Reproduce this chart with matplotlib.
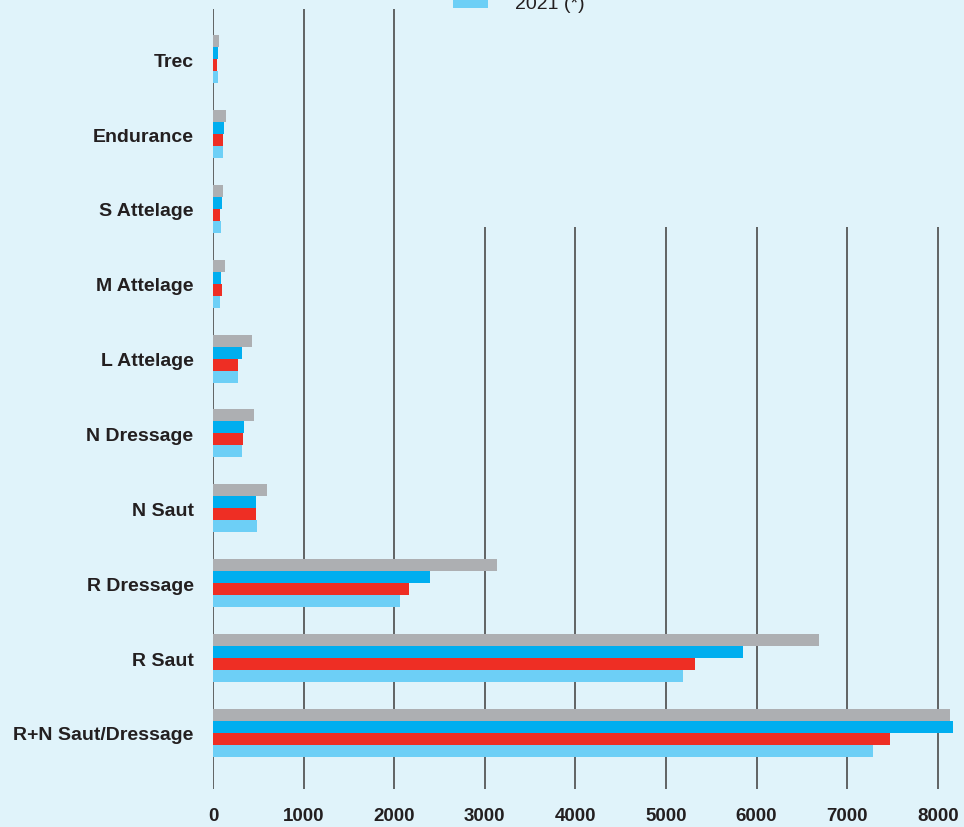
import numpy as np
import matplotlib.pyplot as plt
from matplotlib.patches import Rectangle

categories = ['Trec', 'Endurance', 'S Attelage', 'M Attelage', 'L Attelage',
              'N Dressage', 'N Saut', 'R Dressage', 'R Saut', 'R+N Saut/Dressage']
years = ['2018', '2019', '2020', '2021 (*)']
v2018 = [71, 147, 115, 137, 432, 454, 596, 3140, 6687, 8132]
v2019 = [60, 126, 104, 93, 322, 344, 475, 2399, 5848, 8165]
v2020 = [49, 115, 82, 104, 279, 333, 475, 2169, 5325, 7469]
v2021 = [50, 115, 93, 82, 279, 322, 486, 2066, 5185, 7284]
xticks = [0, 1000, 2000, 3000, 4000, 5000, 6000, 7000, 8000]

bg = '#e0f3fa'
colors = ['#adafb2', '#00aeef', '#ee2e24', '#6dcff6']
text_col = '#231f20'

fig = plt.figure(figsize=(9.64, 8.28), dpi=100, facecolor=bg)
ax = fig.add_axes([213 / 964, 38 / 828, 751 / 964, 780 / 828])
ax.set_facecolor(bg)

y = np.arange(len(categories))
h = 0.16
series = [v2018, v2019, v2020, v2021]
for i, (vals, c, lab) in enumerate(zip(series, colors, years)):
    ax.barh(y + (i - 1.5) * h, vals, height=h, color=c, label=lab, zorder=2)

ax.set_xlim(0, 8290)
ax.set_ylim(9.75, -0.67)
ax.set_xticks(xticks)
ax.set_xticklabels([str(t) for t in xticks], fontsize=13.5, fontweight='bold',
                   color=text_col, family='Liberation Sans')
ax.set_yticks(y)
ax.set_yticklabels(categories, fontsize=14, fontweight='bold', color=text_col,
                   family='Liberation Sans')
ax.tick_params(axis='both', length=0)
ax.tick_params(axis='x', pad=13)
ax.tick_params(axis='y', pad=14)
for s in ax.spines.values():
    s.set_visible(False)
ax.set_axisbelow(True)
ax.grid(axis='x', color='#4a4a4a', linewidth=1.2, zorder=0.5)
ax.grid(axis='y', visible=False)

# legend box covers the top right of the grid
ax.add_patch(Rectangle((0.316, 0.7205), 0.7, 0.3, transform=ax.transAxes,
                       facecolor=bg, edgecolor='none', zorder=1))

handles, labels = ax.get_legend_handles_labels()
fig.legend(handles, labels, loc='lower left', bbox_to_anchor=(453 / 964, 1 - 13 / 828),
           frameon=False, borderpad=0, handlelength=1.8, handleheight=0.7,
           handletextpad=1.4, borderaxespad=0,
           prop={'family': 'Liberation Sans', 'size': 14}, labelcolor=text_col)

fig.savefig('out.png', dpi=100, facecolor=bg)
